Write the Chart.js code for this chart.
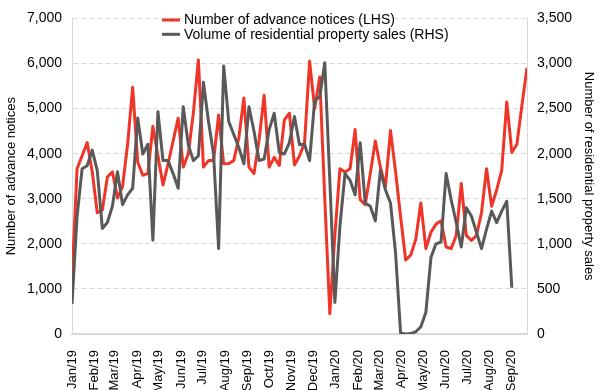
<!DOCTYPE html>
<html>
<head>
<meta charset="utf-8">
<script src="https://cdn.jsdelivr.net/npm/chart.js@4/dist/chart.umd.min.js"></script>
<style>
  html, body { margin: 0; padding: 0; background: #fff; }
  #wrap { width: 600px; height: 390px; }
</style>
</head>
<body>
<div id="wrap"><canvas id="salesChart" width="600" height="390"></canvas></div>
<script>
// Datos semanales desde la primera semana de 2019
const firstDay = Date.UTC(2019, 0, 1);

const advanceNotices = [
  1208, 3666, 3955, 4245, 3600, 2690, 2750, 3485, 3594, 3015,
  3268, 4208, 5473, 3810, 3521, 3557, 4605, 3950, 3304, 3774,
  4280, 4787, 3702, 3991, 4900, 6080, 3702, 3846, 3846, 4859,
  3774, 3780, 3846, 4352, 5235, 3702, 3557, 4300, 5293, 3702,
  3918, 3738, 4750, 4896, 3750, 3950, 4245, 6050, 5000, 5700,
  3000, 450, 2200, 3666, 3594, 3666, 4534, 2979, 2870, 3557,
  4280, 3700, 3268, 4512, 3600, 2600, 1641, 1750, 2100, 2907,
  1894, 2256, 2437, 2510, 1930, 1894, 2184, 3340, 2184, 2075,
  2184, 2690, 3666, 2834, 3195, 3630, 5148, 4027, 4208, 5076,
  5907
];

const propertySales = [
  333, 1300, 1833, 1866, 2039, 1811, 1171, 1236, 1420, 1800,
  1435, 1543, 1616, 2396, 1996, 2104, 1041, 2465, 1923, 1923,
  1779, 1616, 2520, 2100, 1923, 1977, 2791, 2357, 1996, 947,
  2972, 2357, 2213, 2068, 1887, 2520, 2248, 1923, 1941, 2267,
  2448, 2014, 1996, 2122, 2411, 2100, 2104, 1923, 2592, 2628,
  3008, 1700, 350, 1200, 1779, 1706, 1543, 2122, 1453, 1417,
  1255, 1815, 1598, 1453, 900, 10, 0, 5, 25, 80,
  240, 850, 1000, 1020, 1779, 1489, 1236, 965, 1399, 1309,
  1128, 947, 1164, 1363, 1236, 1363, 1472, 513
];

const monthLabels = [
  'Jan/19', 'Feb/19', 'Mar/19', 'Apr/19', 'May/19', 'Jun/19', 'Jul/19',
  'Aug/19', 'Sep/19', 'Oct/19', 'Nov/19', 'Dec/19', 'Jan/20', 'Feb/20',
  'Mar/20', 'Apr/20', 'May/20', 'Jun/20', 'Jul/20', 'Aug/20', 'Sep/20'
];

const leftTicks = [0, 1000, 2000, 3000, 4000, 5000, 6000, 7000];
const rightTicks = [0, 500, 1000, 1500, 2000, 2500, 3000, 3500];

const seriesNames = [
  'Number of advance notices (LHS)',
  'Volume of residential property sales (RHS)'
];

// Días desde el 1 de enero de 2019
const monthDays = monthLabels.map((_, m) => (Date.UTC(2019, m, 1) - firstDay) / 86400000);
const toPoints = arr => arr.map((v, i) => ({ x: i * 7, y: v }));

const FONT = '"Liberation Sans", Arial, sans-serif';
const RED = '#ee3528';
const GREY = '#595959';
const LIGHT = '#d9d9d9';

// Leyenda dentro del área del gráfico
const insideLegend = {
  id: 'insideLegend',
  afterDraw(chart) {
    const ctx = chart.ctx;
    const rows = [
      { y: 20, color: RED, text: seriesNames[0] },
      { y: 34.3, color: GREY, text: seriesNames[1] }
    ];
    ctx.save();
    ctx.font = '14px ' + FONT;
    ctx.textBaseline = 'middle';
    ctx.fillStyle = '#000';
    rows.forEach(r => {
      ctx.strokeStyle = r.color;
      ctx.lineWidth = 3;
      ctx.beginPath();
      ctx.moveTo(162, r.y);
      ctx.lineTo(180, r.y);
      ctx.stroke();
      ctx.fillText(r.text, 184, r.y + 0.5);
    });
    ctx.restore();
  }
};

const ctx = document.getElementById('salesChart').getContext('2d');
new Chart(ctx, {
  type: 'line',
  data: {
    datasets: [
      {
        label: seriesNames[1],
        data: toPoints(propertySales),
        yAxisID: 'y1',
        borderColor: GREY,
        borderWidth: 3,
        pointRadius: 0,
        tension: 0,
        borderJoinStyle: 'round',
        order: 0
      },
      {
        label: seriesNames[0],
        data: toPoints(advanceNotices),
        yAxisID: 'y',
        borderColor: RED,
        borderWidth: 3,
        pointRadius: 0,
        tension: 0,
        borderJoinStyle: 'round',
        order: 1
      }
    ]
  },
  options: {
    responsive: false,
    animation: false,
    layout: { padding: { top: 11, left: 0, right: 0, bottom: 0 } },
    plugins: {
      legend: { display: false },
      tooltip: { enabled: false }
    },
    scales: {
      x: {
        type: 'linear',
        min: 0,
        max: (advanceNotices.length - 1) * 7,
        grid: { display: false },
        border: { display: true, color: LIGHT, width: 2 },
        afterBuildTicks: scale => {
          scale.ticks = monthDays.map(d => ({ value: d }));
        },
        afterFit: scale => { scale.height = 56; },
        ticks: {
          autoSkip: false,
          maxRotation: 90,
          minRotation: 90,
          padding: 8,
          color: '#000',
          font: { family: FONT, size: 13 },
          callback: (value, index) => monthLabels[index]
        }
      },
      y: {
        position: 'left',
        min: 0,
        max: 7000,
        afterBuildTicks: scale => {
          scale.ticks = leftTicks.map(v => ({ value: v }));
        },
        afterFit: scale => { scale.width = 72; },
        grid: { color: LIGHT, lineWidth: 1, drawTicks: false },
        border: { display: true, color: LIGHT, width: 1, dash: [5, 3] },
        ticks: {
          padding: 10,
          color: '#000',
          font: { family: FONT, size: 14 },
          callback: v => v.toLocaleString('en-US')
        },
        title: {
          display: true,
          text: 'Number of advance notices',
          color: '#000',
          font: { family: FONT, size: 13 },
          padding: { top: 4, bottom: 4 }
        }
      },
      y1: {
        position: 'right',
        min: 0,
        max: 3500,
        afterBuildTicks: scale => {
          scale.ticks = rightTicks.map(v => ({ value: v }));
        },
        afterFit: scale => { scale.width = 73; },
        grid: { drawOnChartArea: false, drawTicks: false },
        border: { display: true, color: LIGHT, width: 1 },
        ticks: {
          padding: 10,
          color: '#000',
          font: { family: FONT, size: 14 },
          callback: v => v.toLocaleString('en-US')
        },
        title: {
          display: true,
          text: 'Number of residential property sales',
          color: '#000',
          font: { family: FONT, size: 13 },
          padding: { top: 4, bottom: 4 }
        }
      }
    }
  },
  plugins: [insideLegend]
});
</script>
</body>
</html>
